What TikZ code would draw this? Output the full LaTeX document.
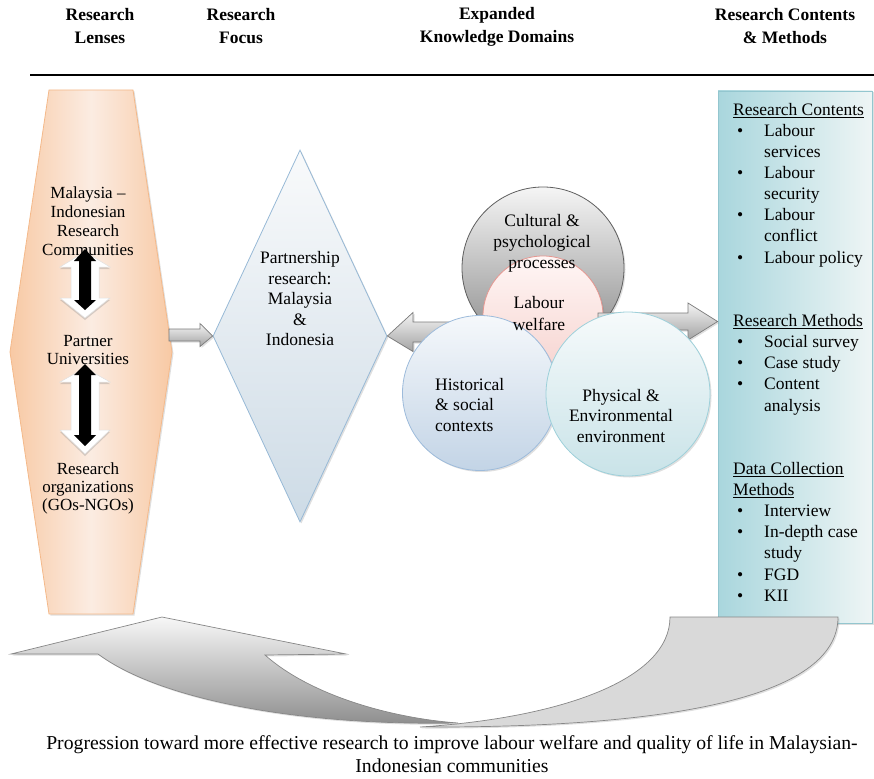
\documentclass[tikz,border=0pt]{standalone}
\usepackage{fontspec}
\setmainfont{Liberation Serif}
\usetikzlibrary{shapes.geometric,shadows}
\definecolor{hexDark}{HTML}{F8C9A4}
\definecolor{hexLight}{HTML}{FBECE2}
\definecolor{hexBorder}{HTML}{F4B98A}
\definecolor{diaTop}{HTML}{F9FAFB}
\definecolor{diaBot}{HTML}{CDDBE6}
\definecolor{diaBorder}{HTML}{97B9D6}
\definecolor{boxLeft}{HTML}{A9D6DD}
\definecolor{boxRight}{HTML}{EEF5F5}
\definecolor{boxBorder}{HTML}{93C6CF}
\definecolor{cultTop}{HTML}{F5F5F5}
\definecolor{cultBot}{HTML}{8A8A8A}
\definecolor{cultBorder}{HTML}{5F5F5F}
\definecolor{labTop}{HTML}{FFF6F5}
\definecolor{labBot}{HTML}{F6D3CF}
\definecolor{labBorder}{HTML}{E59791}
\definecolor{histTop}{HTML}{F5F8FB}
\definecolor{histBot}{HTML}{C3D4E6}
\definecolor{histBorder}{HTML}{9DBBDB}
\definecolor{physTop}{HTML}{F6FAFB}
\definecolor{physBot}{HTML}{C9E3E8}
\definecolor{physBorder}{HTML}{9DD0DA}
\definecolor{arrTop}{HTML}{F4F4F4}
\definecolor{arrBot}{HTML}{A3A3A3}
\definecolor{arrBorder}{HTML}{7A7A7A}
\newcommand\bulA{\hspace*{4pt}•}
\begin{document}
\begin{tikzpicture}[x=1pt,y=-1pt,
  shd/.style={drop shadow={opacity=0.25,shadow xshift=1.5pt,shadow yshift=-1.5pt}},
  hdr/.style={font=\fontsize{17.5}{23}\selectfont\bfseries,align=center,inner sep=0},
  txt/.style={font=\fontsize{17}{19}\selectfont,align=center,inner sep=0},
  garrow/.style={draw=arrBorder,line width=0.7pt,top color=arrTop,bottom color=arrBot,shd,line join=miter},
  warrow/.style={fill=white,draw=white!88!black,line width=0.5pt,drop shadow={opacity=0.3,shadow xshift=0pt,shadow yshift=-2pt}},
  barrow/.style={fill=black},
  bubble/.style={circle,inner sep=0,line width=0.8pt,shd}
]
\useasboundingbox (0,0) rectangle (874,778);

% headers
\node[hdr] (h1) at (100,26.5) {Research\\Lenses};
\node[hdr] (h2) at (241,26.5) {Research\\Focus};
\node[hdr] (h3) at (497,26.5) {Expanded\\Knowledge Domains};
\node[hdr] (h4) at (785,26.5) {Research Contents\\\& Methods};
\coordinate (ruleL) at (30,75);
\coordinate (ruleR) at (874,75);
\draw[line width=1.3pt] (ruleL) -- (ruleR);

% right box
\node[rectangle,draw=boxBorder,line width=0.8pt,left color=boxLeft,right color=boxRight,
  minimum width=154pt,minimum height=532pt,inner sep=0,shd] (box) at (795,357) {};
\node[anchor=north west,inner sep=0,font=\fontsize{17.5}{21.13}\selectfont] (rc) at (733,100.2) {%
\begin{tabular}{@{}p{31pt}@{}l@{}}
\multicolumn{2}{@{}l@{}}{\underline{Research Contents}}\\
\bulA&Labour\\
&services\\
\bulA&Labour\\
&security\\
\bulA&Labour\\
&conflict\\
\bulA&Labour policy\\
&\\
&\\
\multicolumn{2}{@{}l@{}}{\underline{Research Methods}}\\
\bulA&Social survey\\
\bulA&Case study\\
\bulA&Content\\
&analysis\\
&\\
&\\
\multicolumn{2}{@{}l@{}}{\underline{Data Collection}}\\
\multicolumn{2}{@{}l@{}}{\underline{Methods}}\\
\bulA&Interview\\
\bulA&In-depth case\\
&study\\
\bulA&FGD\\
\bulA&KII
\end{tabular}};

% hexagon
\draw[draw=hexBorder,line width=0.8pt,left color=hexDark,right color=hexDark,middle color=hexLight,shd]
  (49,90) -- (133,90) -- (172,352) -- (133,614) -- (49,614) -- (10,352) -- cycle;
\node[txt] (t1) at (88,221.5) {Malaysia –\\Indonesian\\Research\\Communities};
\node[txt,font=\fontsize{17}{18}\selectfont] (t2) at (88,350.5) {Partner\\Universities};
\node[txt,font=\fontsize{17}{18}\selectfont] (t3) at (88,488) {Research\\organizations\\(GOs-NGOs)};

% double arrows in hexagon
\draw[warrow] (85,252) -- (110,267) -- (99,267) -- (99,298) -- (110,298) -- (85,318) -- (60,298) -- (71,298) -- (71,267) -- (60,267) -- cycle;
\fill[barrow] (85,249) -- (96,261) -- (91,261) -- (91,300) -- (96,300) -- (85,310) -- (74,300) -- (79,300) -- (79,261) -- (74,261) -- cycle;
\draw[warrow] (85,368) -- (110,382) -- (99,382) -- (99,430) -- (110,430) -- (85,454) -- (60,430) -- (71,430) -- (71,382) -- (60,382) -- cycle;
\fill[barrow] (85,364) -- (96,375) -- (91,375) -- (91,435) -- (96,435) -- (85,446) -- (74,435) -- (79,435) -- (79,375) -- (74,375) -- cycle;

% diamond
\node[diamond,draw=diaBorder,line width=0.8pt,top color=diaTop,bottom color=diaBot,
  minimum width=174pt,minimum height=372pt,inner sep=0,shd] (dia) at (300,336) {};
\node[txt,font=\fontsize{17.5}{20.5}\selectfont] (diatxt) at (300,299) {Partnership\\research:\\Malaysia\\\&\\Indonesia};

% arrow hexagon -> diamond
\draw[garrow] (169,329) -- (200,329) -- (200,323.5) -- (dia.west) -- (200,346.5) -- (200,341) -- (169,341) -- cycle;

% circles
\node[bubble,draw=cultBorder,top color=cultTop,bottom color=cultBot,minimum size=162pt] (cult) at (543,268) {};
\node[bubble,draw=labBorder,top color=labTop,bottom color=labBot,minimum size=120pt] (lab) at (543,316) {};
% arrows from circles
\draw[garrow] (dia.east) -- (413,312.5) -- (413,322) -- (492,322) -- (492,342) -- (413,342) -- (413,351.5) -- cycle;
\draw[garrow] (598,313) -- (688,313) -- (688,303) -- (box.west |- 0,321.5) -- (688,340) -- (688,330) -- (598,330) -- cycle;
\node[bubble,draw=histBorder,top color=histTop,bottom color=histBot,minimum size=155pt] (hist) at (480,393) {};
\node[bubble,draw=physBorder,top color=physTop,bottom color=physBot,minimum size=164pt] (phys) at (628,394) {};

\node[txt,font=\fontsize{17.5}{21}\selectfont] (cultt) at (542,243) {Cultural \&\\psychological\\processes};
\node[txt,font=\fontsize{17.5}{22}\selectfont] (labt) at (539,314) {Labour\\welfare};
\node[txt,font=\fontsize{17.5}{20.5}\selectfont,align=left,anchor=west] (histt) at (435,405) {Historical\\\& social\\contexts};
\node[txt,font=\fontsize{17.5}{20.5}\selectfont] (physt) at (621,416) {Physical \&\\Environmental\\environment};

% big curved arrow
\draw[draw=arrBorder!90,line width=0.7pt,fill=black!15,shd]
  (670,617) -- (838,617) .. controls (838,700) and (660,728) .. (420,727)
  .. controls (560,718) and (670,680) .. (670,617) -- cycle;
\draw[draw=arrBorder!90,line width=0.7pt,top color=black!3,bottom color=black!45,shd]
  (98,654) -- (11,654) -- (162,617) -- (346,654) -- (265,655)
  .. controls (310,695) and (390,718) .. (458,723)
  .. controls (300,726) and (160,700) .. (98,654) -- cycle;

\node[txt,font=\fontsize{19.7}{23}\selectfont] (foot) at (452,754.5) {Progression toward more effective research to improve labour welfare and quality of life in Malaysian-\\Indonesian communities};
\end{tikzpicture}
\end{document}
